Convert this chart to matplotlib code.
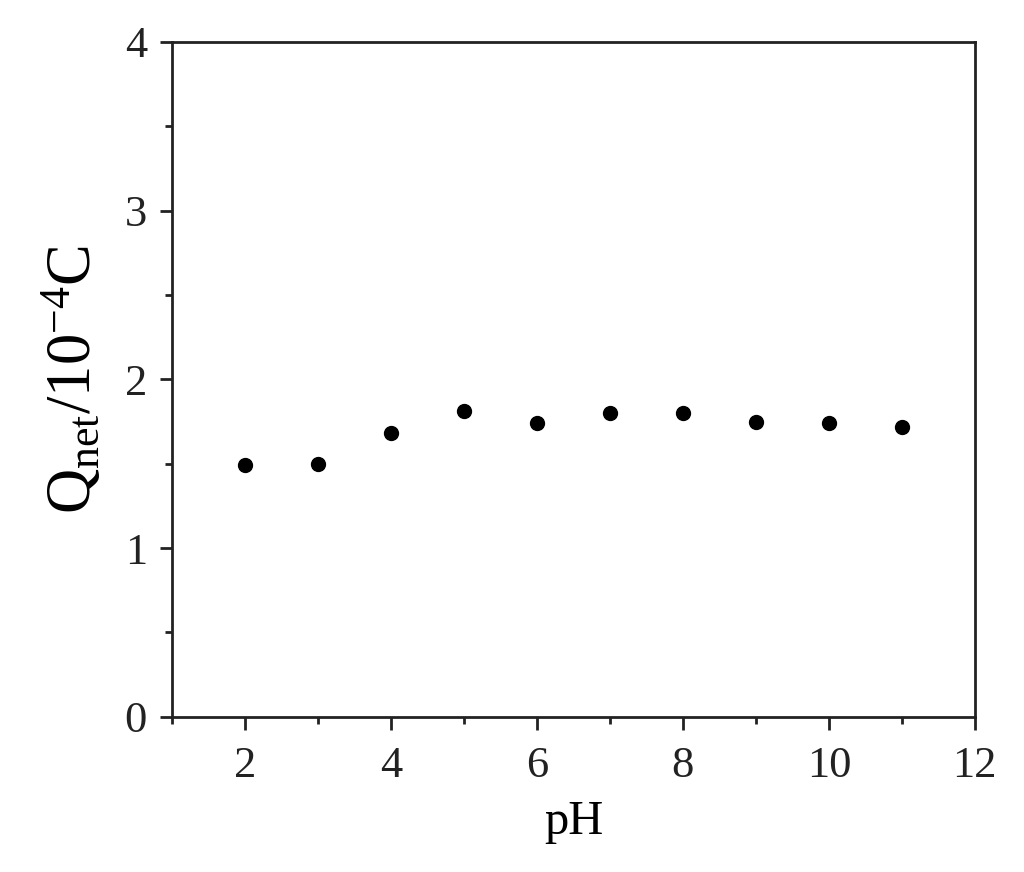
import matplotlib
matplotlib.use('Agg')
import matplotlib.pyplot as plt
from matplotlib.ticker import MultipleLocator

plt.rcParams['font.family'] = ['Liberation Serif', 'DejaVu Serif']
plt.rcParams['mathtext.fontset'] = 'custom'
plt.rcParams['mathtext.rm'] = 'Liberation Serif'

# pH vs net charge
pH = [2, 3, 4, 5, 6, 7, 8, 9, 10, 11]
Q_net = [1.49, 1.50, 1.68, 1.81, 1.74, 1.80, 1.80, 1.75, 1.74, 1.72]

fig = plt.figure(figsize=(10.24, 8.72), dpi=100)
ax = fig.add_axes([0.168, 0.178, 0.784, 0.774])

ax.plot(pH, Q_net, 'o', color='black', markersize=10)

ax.set_xlim(1, 12)
ax.set_ylim(0, 4)
ax.xaxis.set_major_locator(MultipleLocator(2))
ax.xaxis.set_minor_locator(MultipleLocator(1))
ax.yaxis.set_major_locator(MultipleLocator(1))
ax.yaxis.set_minor_locator(MultipleLocator(0.5))

ax.tick_params(which='both', direction='out', top=False, right=False,
               width=2, labelsize=32, colors='#222222')
ax.tick_params(which='major', length=9)
ax.tick_params(which='minor', length=5)
ax.tick_params(axis='x', which='major', pad=12)
ax.tick_params(axis='y', which='major', pad=9)
for s in ax.spines.values():
    s.set_linewidth(2)
    s.set_color('#222222')

ax.set_xlabel('pH', fontsize=35, labelpad=10)
ax.set_ylabel(r'$\mathrm{Q_{net}/10^{-4}C}$', fontsize=45, labelpad=14)

fig.savefig('out.png', dpi=100)
